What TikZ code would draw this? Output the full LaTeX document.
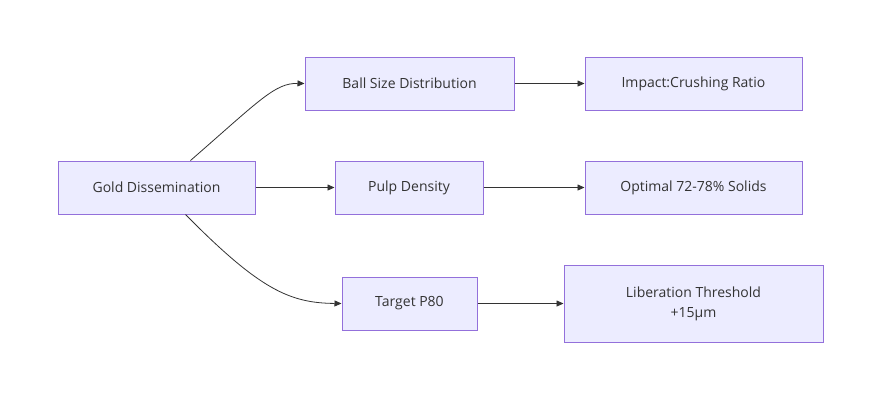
\documentclass[tikz,border=0pt]{standalone}
\usepackage{fontspec}
\setmainfont{Open Sans}
\usetikzlibrary{arrows.meta}
\definecolor{nfill}{HTML}{ECECFF}
\definecolor{nbord}{HTML}{9370DB}
\definecolor{ntext}{HTML}{333333}
\begin{document}
\begin{tikzpicture}[x=1pt,y=-1pt,
  box/.style={draw=nbord,fill=nfill,line width=1pt,text=ntext,font=\fontsize{14}{20}\selectfont,align=center,inner sep=0pt},
  conn/.style={draw=ntext,line width=0.8pt,-{Triangle[length=7pt,width=6pt]}}]
\useasboundingbox (0,0) rectangle (870,400);
\node[box,minimum width=197pt,minimum height=53pt] (g) at (156.5,187.5) {Gold Dissemination};
\node[box,minimum width=209pt,minimum height=53pt] (b) at (409.5,83.5) {Ball Size Distribution};
\node[box,minimum width=217pt,minimum height=53pt] (i) at (693.5,83.5) {Impact:Crushing Ratio};
\node[box,minimum width=148pt,minimum height=53pt] (p) at (409,187.5) {Pulp Density};
\node[box,minimum width=217pt,minimum height=53pt] (o) at (693.5,187.5) {Optimal 72-78\% Solids};
\node[box,minimum width=135pt,minimum height=53pt] (t) at (409.5,303.5) {Target P80};
\node[box,minimum width=259pt,minimum height=77pt] (l) at (693.5,303.5) {Liberation Threshold\\+15µm};
\draw[conn] (g.north east)+(-65,0) coordinate (gs1) .. controls (260,100) and (275,83) .. (b.west);
\draw[conn] (g.south east)+(-70,0) coordinate (gs2) .. controls (260,290) and (290,303) .. (t.west);
\draw[conn] (g) -- (p);
\draw[conn] (b) -- (i);
\draw[conn] (p) -- (o);
\draw[conn] (t) -- (l);
\end{tikzpicture}
\end{document}
